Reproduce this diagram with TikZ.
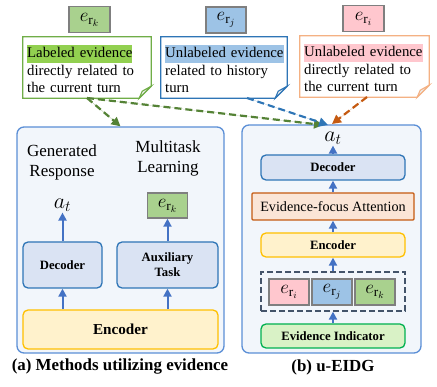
\RequirePackage{fix-cm}
\documentclass[tikz,border=0pt]{standalone}
\usepackage{fontspec}
\setmainfont{Liberation Serif}
\usetikzlibrary{arrows.meta}
\definecolor{tgreen}{HTML}{A9D18E}
\definecolor{tblue}{HTML}{9DC3E6}
\definecolor{tpink}{HTML}{FFC7CE}
\definecolor{tgray}{HTML}{7F7F7F}
\definecolor{cgreen}{HTML}{70AD47}
\definecolor{cblue}{HTML}{2E75B6}
\definecolor{corange}{HTML}{F4B183}
\definecolor{hgreen}{HTML}{92D050}
\definecolor{agreen}{HTML}{548235}
\definecolor{aorange}{HTML}{C55A11}
\definecolor{panelc}{HTML}{5B8FD6}
\definecolor{panelf}{HTML}{F2F6FB}
\definecolor{decf}{HTML}{DAE3F3}
\definecolor{encf}{HTML}{FFF2CC}
\definecolor{encc}{HTML}{FFC000}
\definecolor{efaf}{HTML}{FBE5D6}
\definecolor{eif}{HTML}{D9F2C6}
\definecolor{eic}{HTML}{00B050}
\definecolor{dashc}{HTML}{44546A}
\definecolor{arrc}{HTML}{4472C4}
\newcommand\hlt[2]{{\setlength{\fboxsep}{0pt}\colorbox{#1}{\strut #2}}}
\newcommand\mycallout[2]{%
  \draw[#2, line width=1.3pt, fill=white] (#1.north west) -- (#1.north east) -- ([yshift=12pt]#1.south east) -- ([xshift=-12pt]#1.south east) -- (#1.south west) -- cycle;
  \draw[#2, line width=1.1pt, fill=white!85!gray] ([yshift=12pt]#1.south east) -- ([xshift=-12pt]#1.south east) -- ([xshift=-9pt,yshift=7pt]#1.south east) -- cycle;}
\begin{document}
\begin{tikzpicture}[x=1pt,y=-1pt,
  tag/.style={draw=tgray, line width=1.4pt, minimum width=40pt, minimum height=26pt, inner sep=0pt, font=\fontsize{19}{22}\selectfont},
  ctext/.style={align=left, text width=118pt, inner sep=0pt, font=\fontsize{14.8}{17.5}\selectfont},
  panel/.style={draw=panelc, fill=panelf, rounded corners=7pt, line width=1.3pt, inner sep=0pt},
  blk/.style={rounded corners=5pt, line width=1.3pt, inner sep=0pt, align=center, font=\fontsize{12.7}{15}\selectfont\bfseries},
  lbl/.style={align=center, inner sep=0pt, font=\fontsize{17}{19.5}\selectfont},
  mth/.style={inner sep=1pt, font=\fontsize{22}{26}\selectfont},
  arr/.style={draw=arrc, line width=2pt, -{Triangle[width=8pt,length=8pt]}},
  darr/.style={line width=2.2pt, dash pattern=on 7pt off 4pt, -{Triangle[width=9pt,length=9pt]}},
  captxt/.style={inner sep=0pt, font=\fontsize{16.9}{20}\selectfont\bfseries}]
\useasboundingbox (0,0) rectangle (437,387);

% top tags
\node[tag, fill=tgreen, minimum width=41pt] (tk) at (89.5,19.5) {$e_{\mathrm{r}_k}$};
\node[tag, fill=tblue] (tj) at (226,20) {$e_{\mathrm{r}_j}$};
\node[tag, fill=tpink, minimum width=41pt] (ti) at (363.5,18.5) {$e_{\mathrm{r}_i}$};

% callouts
\node[minimum width=128pt, minimum height=61pt, inner sep=0pt] (cg) at (87,67.5) {};
\node[minimum width=126pt, minimum height=61pt, inner sep=0pt] (cb) at (224,67.5) {};
\node[minimum width=129pt, minimum height=61pt, inner sep=0pt] (co) at (364.5,66.5) {};
\mycallout{cg}{draw=cgreen}
\mycallout{cb}{draw=cblue}
\mycallout{co}{draw=corange}
\node[ctext, anchor=west] (tg) at (27,69) {\hlt{hgreen}{Labeled evidence}\\directly related to\\the current turn};
\node[ctext, anchor=west] (tb) at (165,69) {\hlt{tblue}{Unlabeled evidence}\\related to history\\turn};
\node[ctext, anchor=west] (to) at (304,68) {\hlt{tpink}{Unlabeled evidence}\\directly related to\\the current turn};

% panels
\node[panel, minimum width=207pt, minimum height=226pt] (lp) at (120.5,240) {};
\node[panel, minimum width=179pt, minimum height=228pt] (rp) at (331.5,239) {};

% left panel content
\node[lbl] (gr) at (62,162.5) {Generated\\Response};
\node[lbl] (ml) at (168,158.5) {Multitask\\Learning};
\node[mth] (lat) at (62.5,205) {$a_t$};
\node[tag, fill=tgreen, minimum height=25pt] (lk) at (167.5,205.5) {$e_{\mathrm{r}_k}$};
\node[blk, draw=cblue, fill=decf, minimum width=79pt, minimum height=46pt] (ldec) at (62.5,265) {Decoder};
\node[blk, draw=cblue, fill=decf, minimum width=101pt, minimum height=46pt] (laux) at (167.5,265) {Auxiliary\\Task};
\node[blk, draw=encc, fill=encf, minimum width=195pt, minimum height=39pt, font=\fontsize{15.2}{18}\selectfont\bfseries] (lenc) at (120.5,329.5) {Encoder};
\draw[arr] (ldec.north) -- (lat.south);
\draw[arr] (laux.north) -- (lk.south);
\draw[arr] (lenc.north -| ldec.north) -- (ldec.south);
\draw[arr] (lenc.north -| laux.north) -- (laux.south);

% right panel content
\node[mth] (rat) at (333,138) {$a_t$};
\node[blk, draw=cblue, fill=decf, minimum width=144pt, minimum height=25pt] (rdec) at (333,167.5) {Decoder};
\node[blk, draw=aorange, fill=efaf, rounded corners=1pt, minimum width=162pt, minimum height=27pt, font=\fontsize{14.2}{17}\selectfont] (refa) at (333,206.5) {Evidence-focus Attention};
\node[blk, draw=encc, fill=encf, minimum width=144pt, minimum height=24pt] (renc) at (333,245) {Encoder};
\node[draw=dashc, line width=1.3pt, dash pattern=on 6pt off 3pt, minimum width=144pt, minimum height=39pt, inner sep=0pt] (rdash) at (333,291.5) {};
\node[tag, fill=tpink] (ri) at (289,292) {$e_{\mathrm{r}_i}$};
\node[tag, fill=tblue] (rj) at (332,292) {$e_{\mathrm{r}_j}$};
\node[tag, fill=tgreen] (rk) at (375,292) {$e_{\mathrm{r}_k}$};
\node[blk, draw=eic, fill=eif, minimum width=144pt, minimum height=24pt] (rei) at (333,336) {Evidence Indicator};
\draw[arr] (rdec.north) -- (rat.south);
\draw[arr] (refa.north) -- (rdec.south);
\draw[arr] (renc.north) -- (refa.south);
\draw[arr] (rdash.north) -- (renc.south);
\draw[arr] (rei.north) -- (rdash.south);

% dashed connectors
\coordinate (gs) at (87,98);
\coordinate (bs) at (247,98);
\coordinate (os) at (367,97);
\coordinate (ge) at (323,125);
\coordinate (be) at (328,125);
\coordinate (oe) at (332,124);
\draw[darr, draw=agreen, fill=agreen] (gs) -- (lp.north);
\draw[darr, draw=agreen, fill=agreen] (gs) -- (ge);
\draw[darr, draw=cblue, fill=cblue] (bs) -- (be);
\draw[darr, draw=aorange, fill=aorange] (os) -- (oe);

% captions
\node[captxt] (ca) at (120,367) {(a) Methods utilizing evidence};
\node[captxt] (cbb) at (333,367) {(b) u-EIDG};
\end{tikzpicture}
\end{document}
